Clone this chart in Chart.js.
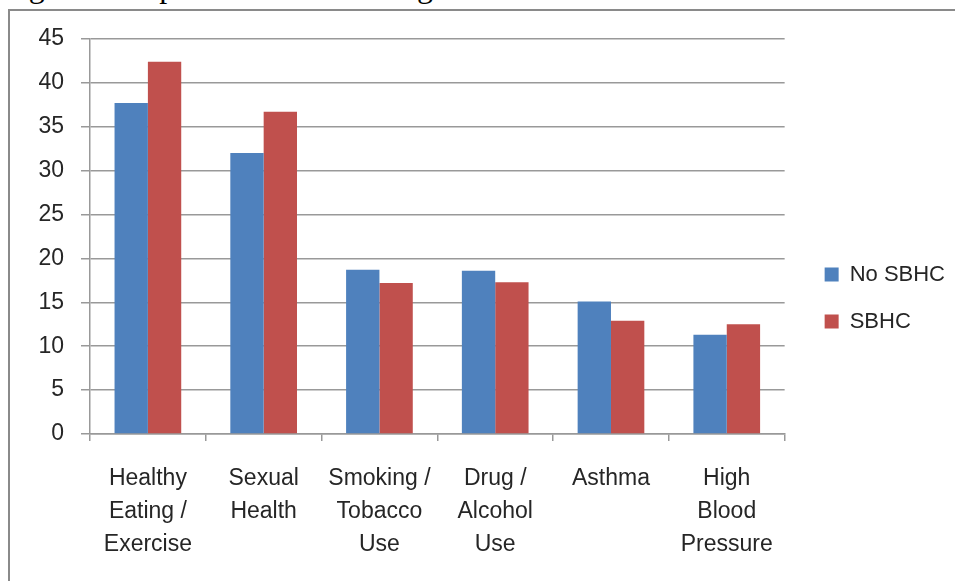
<!DOCTYPE html>
<html>
<head>
<meta charset="utf-8">
<script src="https://cdn.jsdelivr.net/npm/chart.js@4.4.1/dist/chart.umd.min.js"></script>
<style>
  html, body { margin: 0; padding: 0; background: #fff; overflow: hidden; }
  body { width: 955px; height: 581px; position: relative; }
  .caption {
    position: absolute; left: 2px; top: -30px; margin: 0;
    font: 32px/1 "Liberation Serif", "Times New Roman", serif; color: #000;
    white-space: nowrap;
  }
  .frame {
    position: absolute; left: 8px; top: 9px; right: -10px; bottom: -10px;
    border-left: 2px solid #8a8a8a; border-top: 2px solid #8a8a8a;
  }
  .wrap { position: absolute; left: 0; top: 0; width: 955px; height: 581px; }
</style>
</head>
<body>
<p class="caption">Figure 5: Topics discussed during medical visits</p>
<div class="frame"></div>
<div class="wrap"><canvas id="topicsChart"></canvas></div>
<script>
// ── Data ──────────────────────────────────────────
const categories = [
  ['Healthy', 'Eating /', 'Exercise'],
  ['Sexual', 'Health'],
  ['Smoking /', 'Tobacco', 'Use'],
  ['Drug /', 'Alcohol', 'Use'],
  ['Asthma'],
  ['High', 'Blood', 'Pressure']
];
const noSbhc = [37.7, 32.0, 18.7, 18.6, 15.1, 11.3];
const sbhc   = [42.4, 36.7, 17.2, 17.3, 12.9, 12.5];
const yTicks = [0, 5, 10, 15, 20, 25, 30, 35, 40, 45];

// ── Chart ─────────────────────────────────────────
const font = { family: "'Liberation Sans', Arial, sans-serif", size: 23 };
const gridColor = '#999999';
const textColor = '#262626';

new Chart(document.getElementById('topicsChart'), {
  type: 'bar',
  data: {
    labels: categories,
    datasets: [
      { label: 'No SBHC', data: noSbhc, backgroundColor: '#4F81BD' },
      { label: 'SBHC', data: sbhc, backgroundColor: '#C0504D' }
    ]
  },
  options: {
    responsive: true,
    maintainAspectRatio: false,
    animation: false,
    layout: { padding: { left: 0, top: 39, right: 0, bottom: 24 } },
    datasets: { bar: { categoryPercentage: 0.576, barPercentage: 1.0 } },
    plugins: {
      tooltip: { enabled: false },
      legend: {
        position: 'right',
        labels: {
          boxWidth: 14, boxHeight: 14, padding: 25,
          color: textColor,
          font: { family: font.family, size: 22 }
        }
      }
    },
    scales: {
      x: {
        grid: { offset: true, drawOnChartArea: false, tickLength: 7, color: gridColor, lineWidth: 1.5 },
        border: { color: gridColor, width: 1.5 },
        ticks: { color: textColor, font: { ...font, lineHeight: 33 / 23 }, padding: 21, maxRotation: 0 },
        afterFit: s => { s.height = 123; }
      },
      y: {
        min: 0, max: 45,
        afterBuildTicks: s => { s.ticks = yTicks.map(v => ({ value: v })); },
        grid: { color: gridColor, lineWidth: 1.5, tickLength: 9 },
        border: { color: gridColor, width: 1.5 },
        ticks: { color: textColor, font, padding: 17 },
        afterFit: s => { s.width = 90; }
      },
      // spacer between plot and legend
      gap: {
        type: 'linear', position: 'right', display: true,
        grid: { display: false }, border: { display: false },
        ticks: { display: false },
        afterFit: s => { s.width = 15; }
      }
    }
  }
});
</script>
</body>
</html>
